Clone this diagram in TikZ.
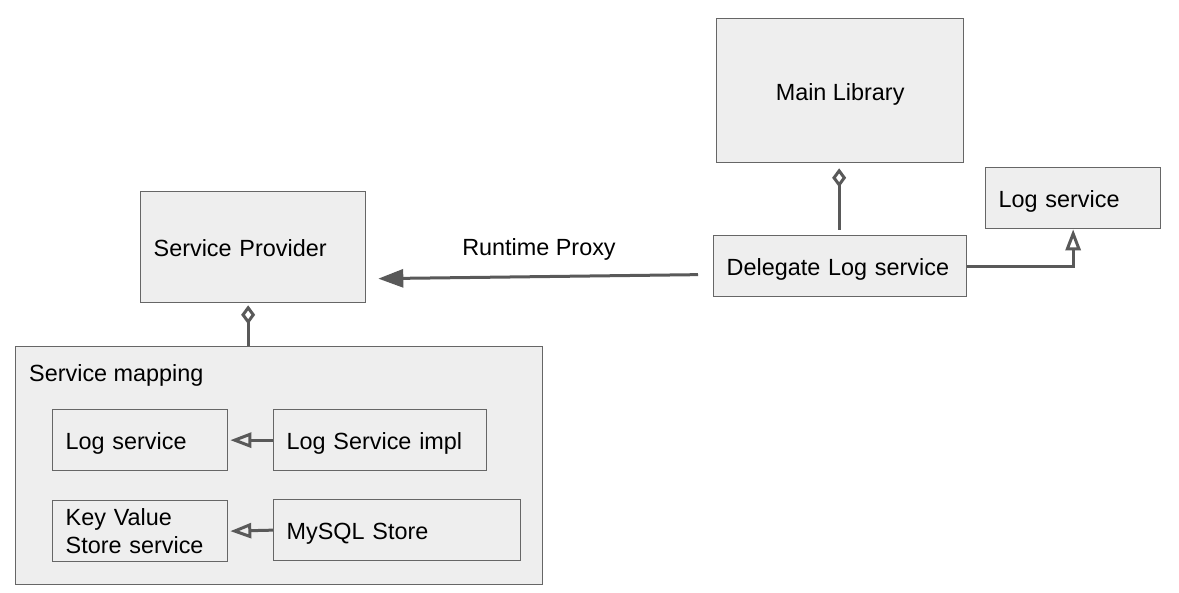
\documentclass[tikz,border=0pt]{standalone}
\usepackage{fontspec}
\setmainfont{Liberation Sans}
\usetikzlibrary{arrows.meta,calc}
\definecolor{boxfill}{HTML}{EEEEEE}
\definecolor{boxline}{HTML}{666666}
\definecolor{conn}{HTML}{595959}
\begin{document}
\begin{tikzpicture}[x=1pt,y=-1pt,
  every node/.style={font=\fontsize{23.4}{28}\selectfont, text=black},
  box/.style={draw=boxline, fill=boxfill, line width=1.3pt, anchor=north west,
    inner xsep=13pt, inner ysep=0pt, align=left},
  oneline/.style={text height=24pt, text depth=5pt},
  link/.style={draw=conn, line width=3pt},
  diam/.style={link, {Diamond[open,length=19pt,width=14pt]}-},
  realize/.style={link, -{Triangle[open,length=21pt,width=15pt]}},
  proxy/.style={link, -{Triangle[length=25pt,width=18pt]}}]
\useasboundingbox (0,0) rectangle (1179,593);
% boxes
\node[box, oneline, minimum width=247pt, minimum height=144pt, align=center] (main) at (716,18) {Main Library};
\node[box, oneline, minimum width=175pt, minimum height=61pt, text width=149pt] (logr) at (985,167) {Log service};
\node[box, oneline, minimum width=253pt, minimum height=61pt, text width=227pt] (deleg) at (713,235) {Delegate Log service};
\node[box, oneline, minimum width=225pt, minimum height=111pt, text width=199pt] (sp) at (140,191) {Service Provider};
\node[box, minimum width=527pt, minimum height=238pt] (map) at (15,346) {};
\node[anchor=west, inner sep=0pt] (maplabel) at (29,375.5) {Service mapping};
\node[box, oneline, minimum width=175pt, minimum height=61pt, text width=149pt] (logi) at (52,409) {Log service};
\node[box, oneline, minimum width=213pt, minimum height=61pt, text width=187pt] (lsi) at (273,409) {Log Service impl};
\node[box, minimum width=175pt, minimum height=61pt, text width=149pt, yshift=-1pt] (kv) at (52,499) {Key Value\\Store service};
\node[box, oneline, minimum width=247pt, minimum height=61pt, text width=221pt] (mysql) at (273,499) {MySQL Store};
% connectors
\draw[diam, shorten <=5pt, shorten >=5pt] ([xshift=-1pt]main.south) -- ([xshift=-1pt]deleg.north);
\coordinate (spd) at ($(sp.south)+(-5,2)$);
\draw[diam] (spd) -- (spd |- map.north);
\draw[proxy] ($(deleg.west)+(-15,8.5)$) -- ($(sp.east)+(12,31.5)$);
\node (rp) at (539,249) {Runtime Proxy};
\draw[realize] (deleg.east) -| (logr.south);
\draw[realize] (lsi.west) -- ($(logi.east)+(2,0)$);
\draw[realize] (mysql.west) -- ($(kv.east)+(2,0)$);
\end{tikzpicture}
\end{document}
